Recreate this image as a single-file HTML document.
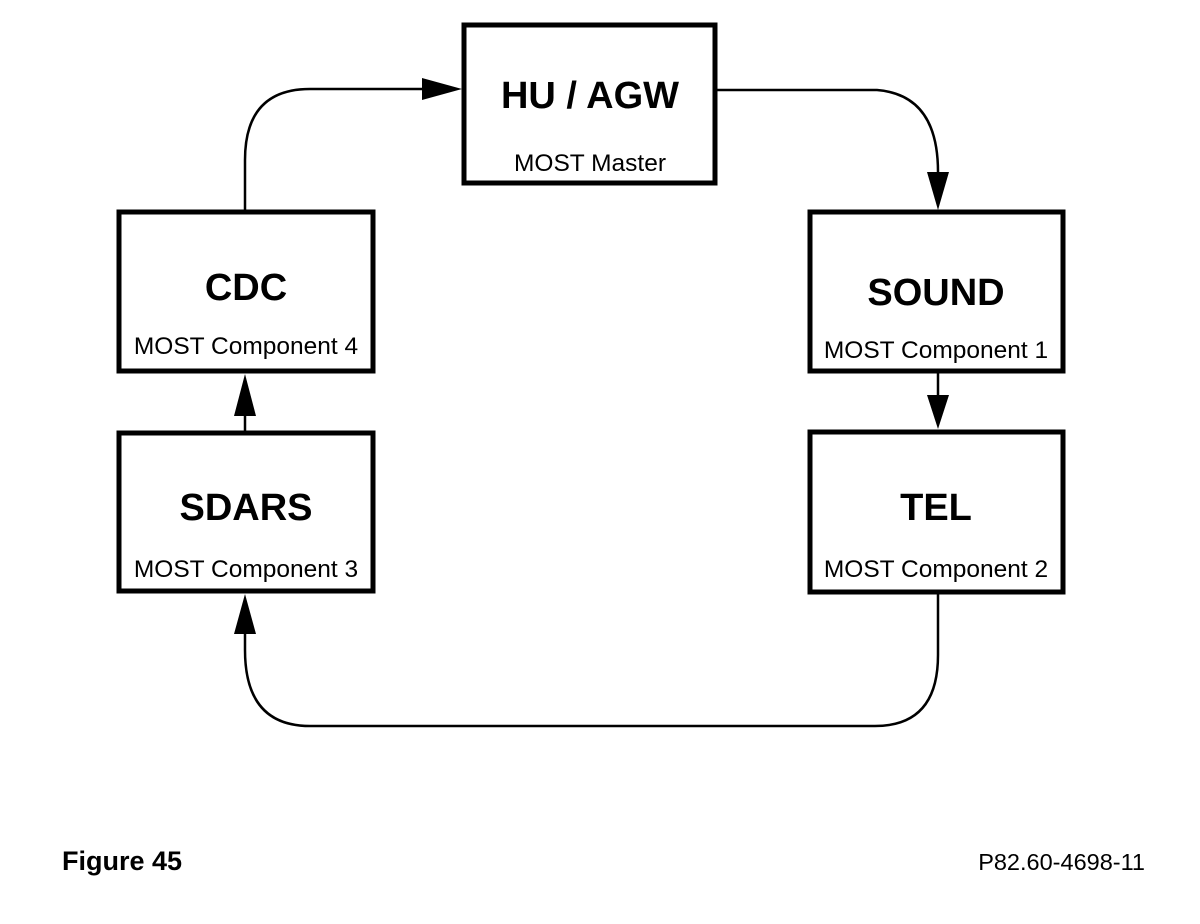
<!DOCTYPE html>
<html><head><meta charset="utf-8"><style>
html,body{margin:0;padding:0;background:#fff;}
svg{display:block;}
text{font-family:"Liberation Sans",Arial,sans-serif;fill:#000;}
.t{font-weight:bold;font-size:38px;}
.s{font-size:24.5px;}
</style></head><body>
<svg width="1200" height="924" viewBox="0 0 1200 924">
<g fill="#fff" stroke="#000" stroke-width="5">
<rect x="464" y="25" width="251" height="158"/>
<rect x="119" y="212" width="254" height="159"/>
<rect x="119" y="433" width="254" height="158"/>
<rect x="810" y="212" width="253" height="159"/>
<rect x="810" y="432" width="253" height="160"/>
</g>
<g fill="none" stroke="#000" stroke-width="2.5">
<path d="M245 210 V160 Q245 89 310 89 H430"/>
<path d="M716 90 H877 Q938 95 938 172"/>
<path d="M938 373 V396"/>
<path d="M245 431 V415"/>
<path d="M938 594 V655 Q938 726 875 726 H310 Q245 726 245 650 V634"/>
</g>
<g fill="#000">
<polygon points="462,89 422,78 422,100"/>
<polygon points="938,210 927,172 949,172"/>
<polygon points="938,429 927,395 949,395"/>
<polygon points="245,374 234,416 256,416"/>
<polygon points="245,594 234,634 256,634"/>
</g>
<g text-anchor="middle">
<text class="t" x="590" y="108">HU / AGW</text>
<text class="s" x="590" y="171">MOST Master</text>
<text class="t" x="246" y="300">CDC</text>
<text class="s" x="246" y="354">MOST Component 4</text>
<text class="t" x="246" y="520">SDARS</text>
<text class="s" x="246" y="577">MOST Component 3</text>
<text class="t" x="936" y="305">SOUND</text>
<text class="s" x="936" y="358">MOST Component 1</text>
<text class="t" x="936" y="520">TEL</text>
<text class="s" x="936" y="577">MOST Component 2</text>
</g>
<text x="62" y="870" style="font-weight:bold;font-size:27px">Figure 45</text>
<text x="1145" y="870" text-anchor="end" style="font-size:23.5px">P82.60-4698-11</text>
</svg>
</body></html>
